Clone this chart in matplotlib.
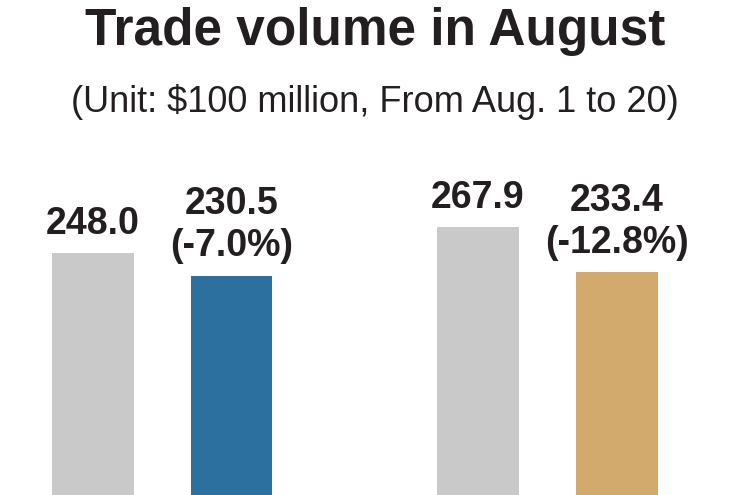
import matplotlib
matplotlib.use("Agg")
import matplotlib.pyplot as plt

# values (unit: $100 million)
labels = ["248.0", "230.5\n(-7.0%)", "267.9", "233.4\n(-12.8%)"]
values = [248.0, 230.5, 267.9, 233.4]
colors = ["#c9c9c9", "#2c70a0", "#c9c9c9", "#d2aa6e"]
positions = [0, 1, 2.77, 3.77]

INK = "#231f20"
FONT = ["Liberation Sans", "DejaVu Sans"]

fig = plt.figure(figsize=(7.5, 4.95), dpi=100)
fig.patch.set_facecolor("white")

ax = fig.add_axes([0, 0, 1, (495 - 130) / 495])
ax.bar(positions, values, width=0.583, color=colors)
ax.set_ylim(62.6, 341.9)
ax.set_xlim(-0.669, 4.727)
ax.axis("off")

for x, v, lab in zip(positions, values, labels):
    ax.annotate(lab, (x, v), xytext=(0, 8), textcoords="offset points",
                ha="center", va="bottom", fontsize=27, fontweight="bold",
                color=INK, family=FONT, linespacing=1.22)

fig.text(0.5, 1 - 45 / 495, "Trade volume in August", ha="center",
         va="baseline", fontsize=37, fontweight="bold", color=INK,
         family=FONT)

fig.text(0.5, 1 - 112 / 495, "(Unit: $100 million, From Aug. 1 to 20)",
         ha="center", va="baseline", fontsize=26, color=INK, family=FONT)

fig.savefig("out.png", dpi=100, facecolor="white")
